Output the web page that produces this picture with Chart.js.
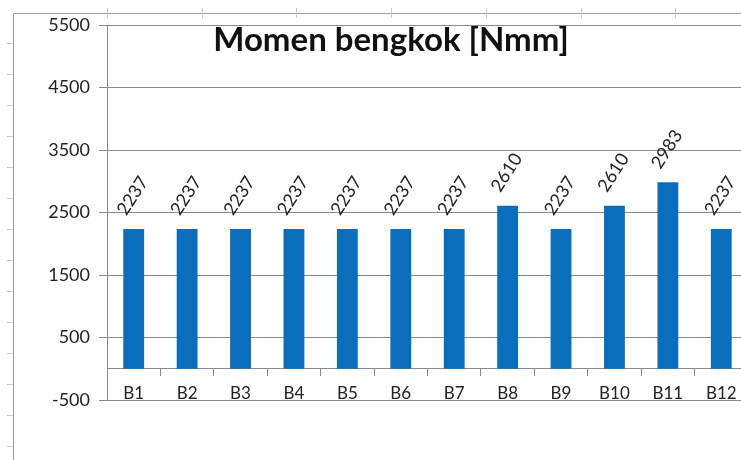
<!DOCTYPE html>
<html>
<head>
<meta charset="utf-8">
<script src="https://cdn.jsdelivr.net/npm/chart.js@4"></script>
<style>
  html, body { margin: 0; padding: 0; background: #fff; overflow: hidden; }
  #wrap { position: relative; width: 760px; height: 460px; }
</style>
</head>
<body>
<div id="wrap"><canvas id="chart" width="760" height="460"></canvas></div>
<script>
const categories = ['B1', 'B2', 'B3', 'B4', 'B5', 'B6', 'B7', 'B8', 'B9', 'B10', 'B11', 'B12'];
const momenValues = [2237, 2237, 2237, 2237, 2237, 2237, 2237, 2610, 2237, 2610, 2983, 2237];
const yMin = -500;
const yMax = 5500;
const yStep = 1000;
const chartTitle = 'Momen bengkok [Nmm]';

const gridGray = '#8a8a8a';
const textGray = '#222';

// faint spreadsheet cell lines behind the chart
const sheetLines = {
  id: 'sheetLines',
  beforeDraw(chart) {
    const ctx = chart.ctx;
    ctx.save();
    ctx.strokeStyle = '#a0a0a0';
    ctx.lineWidth = 1;
    ctx.beginPath();
    ctx.moveTo(13.5, 13.5); ctx.lineTo(chart.width, 13.5);
    ctx.moveTo(13.5, 13.5); ctx.lineTo(13.5, chart.height);
    ctx.stroke();
    ctx.strokeStyle = '#c8c8c8';
    ctx.beginPath();
    for (let y = 43; y < chart.height; y += 31) {
      ctx.moveTo(7, y + 0.5); ctx.lineTo(13, y + 0.5);
    }
    for (let x = 107; x < chart.width; x += 94.7) {
      ctx.moveTo(Math.round(x) + 0.5, 8); ctx.lineTo(Math.round(x) + 0.5, 18);
    }
    ctx.stroke();
    ctx.restore();
  }
};

// rotated value labels + title inside the plot
const labelsAndTitle = {
  id: 'labelsAndTitle',
  afterDatasetsDraw(chart) {
    const ctx = chart.ctx;
    const meta = chart.getDatasetMeta(0);
    ctx.save();
    ctx.fillStyle = textGray;
    ctx.font = '18px Lato';
    ctx.textAlign = 'center';
    ctx.textBaseline = 'middle';
    meta.data.forEach((bar, i) => {
      ctx.save();
      ctx.translate(bar.x - 1, bar.y - 33);
      ctx.rotate(-57 * Math.PI / 180);
      ctx.fillText(String(momenValues[i]), 0, 0);
      ctx.restore();
    });
    ctx.fillStyle = '#111';
    ctx.font = 'bold 33px Lato';
    ctx.textBaseline = 'alphabetic';
    ctx.fillText(chartTitle, 391, 51);
    ctx.restore();
  }
};

new Chart(document.getElementById('chart'), {
  type: 'bar',
  data: {
    labels: categories,
    datasets: [{
      data: momenValues,
      backgroundColor: '#0a6ebd',
      categoryPercentage: 1,
      barPercentage: 0.39
    }]
  },
  options: {
    responsive: false,
    animation: false,
    devicePixelRatio: 1,
    layout: { padding: { left: 0, right: 12, top: 25, bottom: 60 } },
    plugins: {
      legend: { display: false },
      tooltip: { enabled: false }
    },
    scales: {
      x: {
        position: { y: 0 },
        grid: {
          display: true,
          drawOnChartArea: false,
          drawTicks: true,
          tickLength: 7,
          offset: true,
          color: gridGray
        },
        border: { display: true, color: gridGray },
        ticks: {
          color: textGray,
          font: { family: 'Lato', size: 17 },
          padding: 8,
          maxRotation: 0
        }
      },
      y: {
        min: yMin,
        max: yMax,
        afterFit(scale) { scale.width = 107; },
        ticks: {
          stepSize: yStep,
          color: textGray,
          font: { family: 'Lato', size: 18 },
          padding: 9,
          callback: (v) => String(v)
        },
        grid: { color: gridGray, tickLength: 8 },
        border: { display: true, color: gridGray }
      }
    }
  },
  plugins: [sheetLines, labelsAndTitle]
});
</script>
</body>
</html>
